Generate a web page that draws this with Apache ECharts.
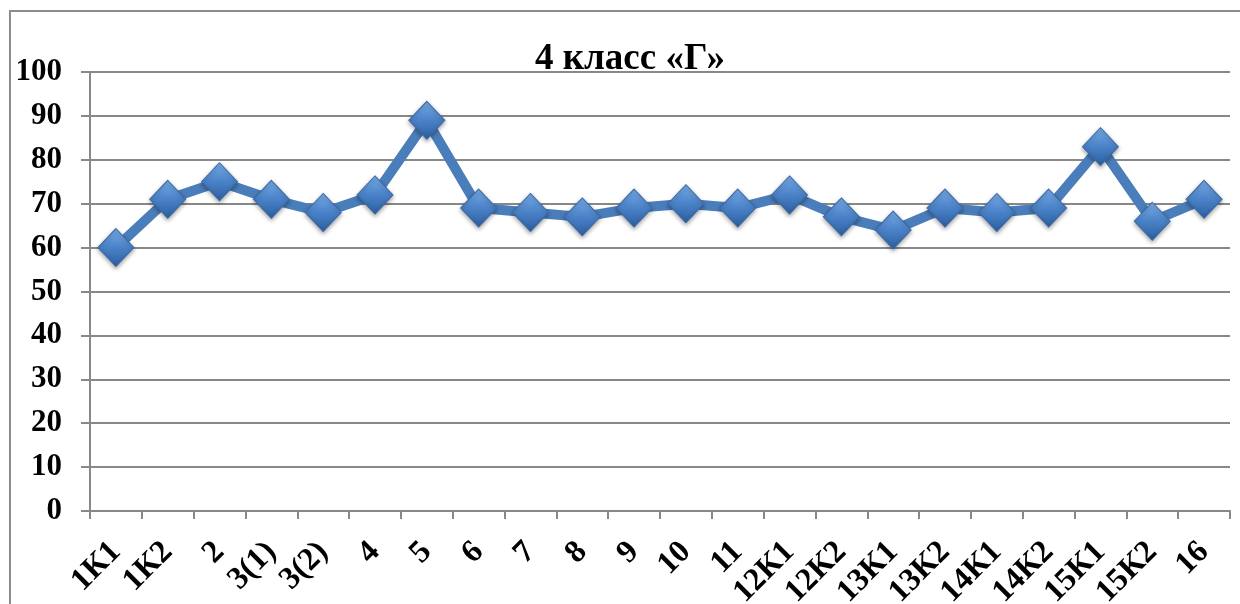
<!DOCTYPE html>
<html><head><meta charset="utf-8">
<script src="https://cdn.jsdelivr.net/npm/echarts@6/dist/echarts.min.js"></script>
<style>html,body{margin:0;padding:0;background:#fff}#c{width:1240px;height:604px}</style>
</head><body><div id="c"></div>
<script>
const titleText = '4 класс «Г»';
const categories = ['1К1','1К2','2','3(1)','3(2)','4','5','6','7','8','9','10','11','12К1','12К2','13К1','13К2','14К1','14К2','15К1','15К2','16'];
const values = [60,71,75,71,68,72,89,69,68,67,69,70,69,72,67,64,69,68,69,83,66,71];
const yTicks = {min:0, max:100, interval:10};

const chart = echarts.init(document.getElementById('c'));
const font = '"Liberation Serif","Times New Roman",serif';
chart.setOption({
  animation:false,
  backgroundColor:'#fff',
  graphic:[{type:'rect',shape:{x:10,y:11,width:1240,height:610},style:{fill:'none',stroke:'#8c8c8c',lineWidth:2},silent:true}],
  title:{text:titleText,left:530,top:36,textStyle:{fontFamily:font,fontWeight:'bold',fontSize:37,color:'#000'}},
  grid:{left:90,right:10,top:72,bottom:93,containLabel:false,outerBoundsMode:'none'},
  xAxis:{type:'category',data:categories,boundaryGap:true,
    axisLine:{lineStyle:{color:'#888',width:2}},
    axisTick:{show:true,length:8,lineStyle:{color:'#888',width:2},alignWithLabel:false},
    axisLabel:{rotate:45,interval:0,margin:36,fontFamily:font,fontWeight:'bold',fontSize:32,color:'#000'}},
  yAxis:{type:'value',min:yTicks.min,max:yTicks.max,interval:yTicks.interval,
    axisLine:{show:true,lineStyle:{color:'#888',width:2}},
    axisTick:{show:true,length:9,lineStyle:{color:'#888',width:2}},
    splitLine:{lineStyle:{color:'#888',width:2}},
    axisLabel:{margin:28,fontFamily:font,fontWeight:'bold',fontSize:31,color:'#000'}},
  series:[{type:'line',data:values,
    lineStyle:{color:'#4a7ebb',width:10},
    symbol:'diamond',symbolSize:[36,38],
    itemStyle:{color:new echarts.graphic.LinearGradient(0,0,0,1,[
      {offset:0,color:'#7aaeea'},{offset:0.5,color:'#4a82c8'},{offset:1,color:'#2c5e9e'}]),
      borderColor:'#3a6aa8',borderWidth:1,shadowColor:'rgba(0,0,0,0.35)',shadowBlur:4,shadowOffsetY:2},
    z:3}]
});
</script></body></html>
